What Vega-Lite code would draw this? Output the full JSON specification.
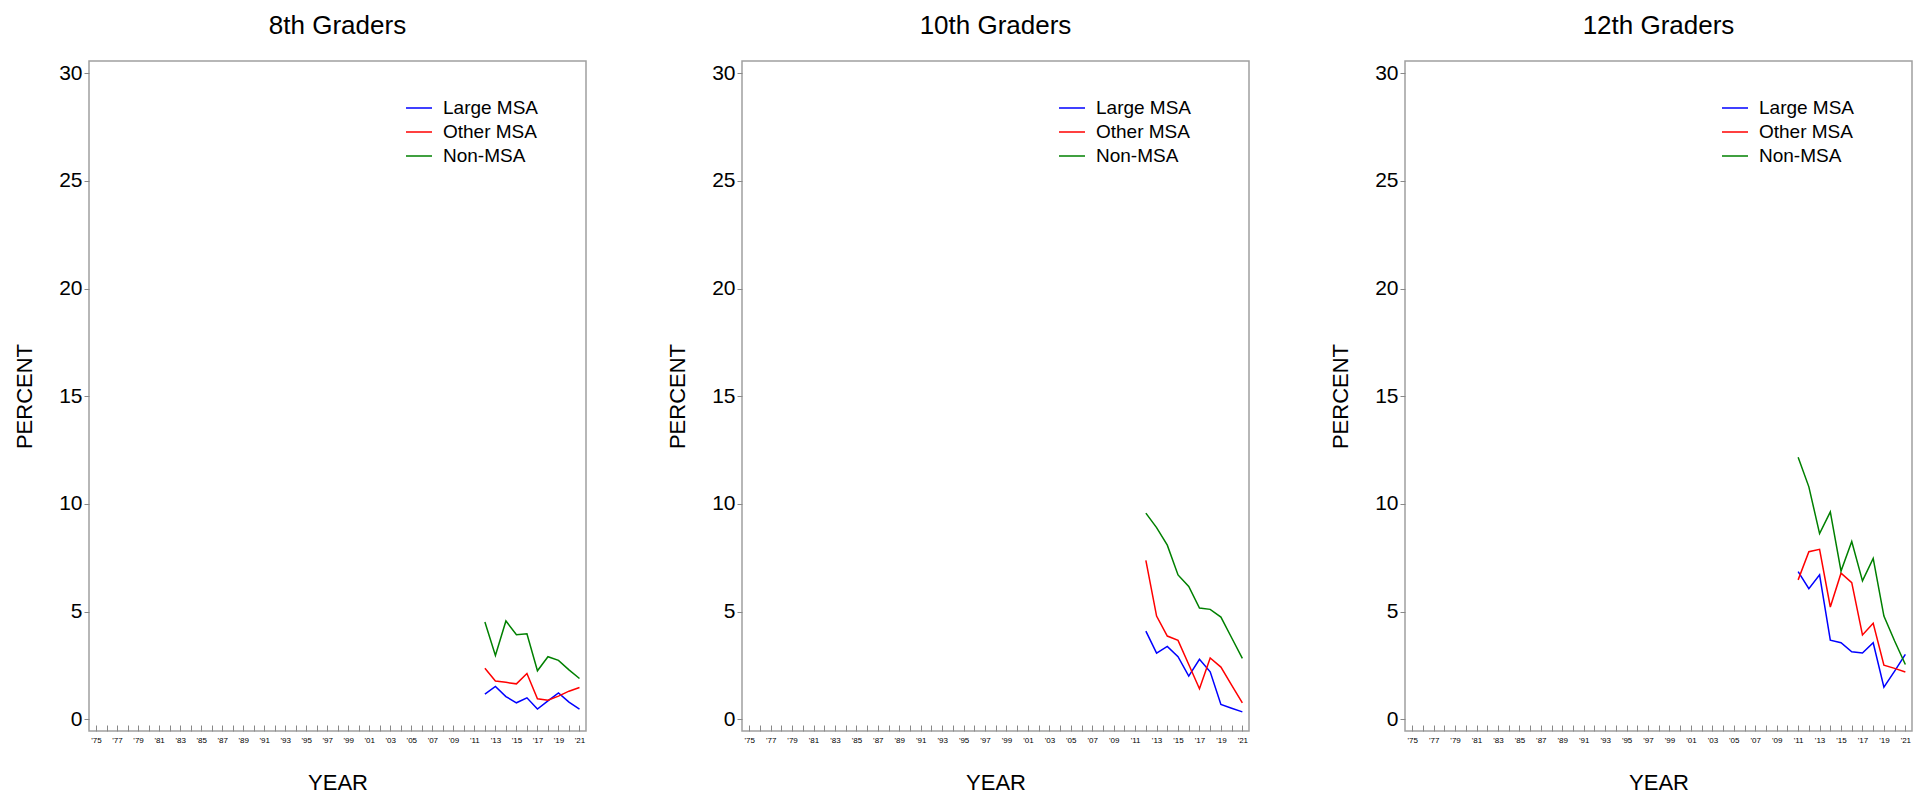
{
  "$schema": "https://vega.github.io/schema/vega-lite/v6.json",
  "padding": {"left": 12, "top": 12, "right": 2, "bottom": 2},
  "config": {
    "font": "Liberation Sans",
    "view": {"stroke": "#a0a0a0", "strokeWidth": 1.5},
    "title": {"fontSize": 26, "fontWeight": "normal", "color": "#000000", "offset": 22},
    "axis": {"grid": false, "domain": false, "tickColor": "#888888", "labelColor": "#000000", "titleColor": "#000000", "titleFontWeight": "normal"},
    "legend": {"orient": "none", "legendX": 316, "legendY": 33, "title": null, "symbolType": "stroke", "symbolSize": 676, "symbolStrokeWidth": 1.5, "labelFontSize": 19, "labelOffset": 10, "rowPadding": -3.5, "padding": 0, "labelColor": "#000000"}
  },
  "data": {"values": [
    {"grade": "8th Graders", "group": "Large MSA", "year": 2012, "value": 1.16},
    {"grade": "8th Graders", "group": "Large MSA", "year": 2013, "value": 1.52},
    {"grade": "8th Graders", "group": "Large MSA", "year": 2014, "value": 1.05},
    {"grade": "8th Graders", "group": "Large MSA", "year": 2015, "value": 0.76},
    {"grade": "8th Graders", "group": "Large MSA", "year": 2016, "value": 0.99},
    {"grade": "8th Graders", "group": "Large MSA", "year": 2017, "value": 0.47},
    {"grade": "8th Graders", "group": "Large MSA", "year": 2018, "value": 0.85},
    {"grade": "8th Graders", "group": "Large MSA", "year": 2019, "value": 1.22},
    {"grade": "8th Graders", "group": "Large MSA", "year": 2020, "value": 0.79},
    {"grade": "8th Graders", "group": "Large MSA", "year": 2021, "value": 0.47},
    {"grade": "8th Graders", "group": "Other MSA", "year": 2012, "value": 2.36},
    {"grade": "8th Graders", "group": "Other MSA", "year": 2013, "value": 1.77},
    {"grade": "8th Graders", "group": "Other MSA", "year": 2014, "value": 1.71},
    {"grade": "8th Graders", "group": "Other MSA", "year": 2015, "value": 1.64},
    {"grade": "8th Graders", "group": "Other MSA", "year": 2016, "value": 2.12},
    {"grade": "8th Graders", "group": "Other MSA", "year": 2017, "value": 0.95},
    {"grade": "8th Graders", "group": "Other MSA", "year": 2018, "value": 0.88},
    {"grade": "8th Graders", "group": "Other MSA", "year": 2019, "value": 1.07},
    {"grade": "8th Graders", "group": "Other MSA", "year": 2020, "value": 1.30},
    {"grade": "8th Graders", "group": "Other MSA", "year": 2021, "value": 1.47},
    {"grade": "8th Graders", "group": "Non-MSA", "year": 2012, "value": 4.51},
    {"grade": "8th Graders", "group": "Non-MSA", "year": 2013, "value": 2.96},
    {"grade": "8th Graders", "group": "Non-MSA", "year": 2014, "value": 4.56},
    {"grade": "8th Graders", "group": "Non-MSA", "year": 2015, "value": 3.92},
    {"grade": "8th Graders", "group": "Non-MSA", "year": 2016, "value": 3.97},
    {"grade": "8th Graders", "group": "Non-MSA", "year": 2017, "value": 2.25},
    {"grade": "8th Graders", "group": "Non-MSA", "year": 2018, "value": 2.90},
    {"grade": "8th Graders", "group": "Non-MSA", "year": 2019, "value": 2.73},
    {"grade": "8th Graders", "group": "Non-MSA", "year": 2020, "value": 2.29},
    {"grade": "8th Graders", "group": "Non-MSA", "year": 2021, "value": 1.89},
    {"grade": "10th Graders", "group": "Large MSA", "year": 2012, "value": 4.09},
    {"grade": "10th Graders", "group": "Large MSA", "year": 2013, "value": 3.07},
    {"grade": "10th Graders", "group": "Large MSA", "year": 2014, "value": 3.38},
    {"grade": "10th Graders", "group": "Large MSA", "year": 2015, "value": 2.90},
    {"grade": "10th Graders", "group": "Large MSA", "year": 2016, "value": 2.00},
    {"grade": "10th Graders", "group": "Large MSA", "year": 2017, "value": 2.78},
    {"grade": "10th Graders", "group": "Large MSA", "year": 2018, "value": 2.20},
    {"grade": "10th Graders", "group": "Large MSA", "year": 2019, "value": 0.68},
    {"grade": "10th Graders", "group": "Large MSA", "year": 2020, "value": 0.51},
    {"grade": "10th Graders", "group": "Large MSA", "year": 2021, "value": 0.34},
    {"grade": "10th Graders", "group": "Other MSA", "year": 2012, "value": 7.38},
    {"grade": "10th Graders", "group": "Other MSA", "year": 2013, "value": 4.79},
    {"grade": "10th Graders", "group": "Other MSA", "year": 2014, "value": 3.86},
    {"grade": "10th Graders", "group": "Other MSA", "year": 2015, "value": 3.66},
    {"grade": "10th Graders", "group": "Other MSA", "year": 2016, "value": 2.54},
    {"grade": "10th Graders", "group": "Other MSA", "year": 2017, "value": 1.41},
    {"grade": "10th Graders", "group": "Other MSA", "year": 2018, "value": 2.84},
    {"grade": "10th Graders", "group": "Other MSA", "year": 2019, "value": 2.42},
    {"grade": "10th Graders", "group": "Other MSA", "year": 2020, "value": 1.58},
    {"grade": "10th Graders", "group": "Other MSA", "year": 2021, "value": 0.76},
    {"grade": "10th Graders", "group": "Non-MSA", "year": 2012, "value": 9.57},
    {"grade": "10th Graders", "group": "Non-MSA", "year": 2013, "value": 8.90},
    {"grade": "10th Graders", "group": "Non-MSA", "year": 2014, "value": 8.08},
    {"grade": "10th Graders", "group": "Non-MSA", "year": 2015, "value": 6.70},
    {"grade": "10th Graders", "group": "Non-MSA", "year": 2016, "value": 6.16},
    {"grade": "10th Graders", "group": "Non-MSA", "year": 2017, "value": 5.16},
    {"grade": "10th Graders", "group": "Non-MSA", "year": 2018, "value": 5.10},
    {"grade": "10th Graders", "group": "Non-MSA", "year": 2019, "value": 4.74},
    {"grade": "10th Graders", "group": "Non-MSA", "year": 2020, "value": 3.78},
    {"grade": "10th Graders", "group": "Non-MSA", "year": 2021, "value": 2.82},
    {"grade": "12th Graders", "group": "Large MSA", "year": 2011, "value": 6.85},
    {"grade": "12th Graders", "group": "Large MSA", "year": 2012, "value": 6.06},
    {"grade": "12th Graders", "group": "Large MSA", "year": 2013, "value": 6.70},
    {"grade": "12th Graders", "group": "Large MSA", "year": 2014, "value": 3.67},
    {"grade": "12th Graders", "group": "Large MSA", "year": 2015, "value": 3.55},
    {"grade": "12th Graders", "group": "Large MSA", "year": 2016, "value": 3.13},
    {"grade": "12th Graders", "group": "Large MSA", "year": 2017, "value": 3.07},
    {"grade": "12th Graders", "group": "Large MSA", "year": 2018, "value": 3.55},
    {"grade": "12th Graders", "group": "Large MSA", "year": 2019, "value": 1.49},
    {"grade": "12th Graders", "group": "Large MSA", "year": 2020, "value": 2.23},
    {"grade": "12th Graders", "group": "Large MSA", "year": 2021, "value": 3.01},
    {"grade": "12th Graders", "group": "Other MSA", "year": 2011, "value": 6.47},
    {"grade": "12th Graders", "group": "Other MSA", "year": 2012, "value": 7.78},
    {"grade": "12th Graders", "group": "Other MSA", "year": 2013, "value": 7.89},
    {"grade": "12th Graders", "group": "Other MSA", "year": 2014, "value": 5.21},
    {"grade": "12th Graders", "group": "Other MSA", "year": 2015, "value": 6.78},
    {"grade": "12th Graders", "group": "Other MSA", "year": 2016, "value": 6.34},
    {"grade": "12th Graders", "group": "Other MSA", "year": 2017, "value": 3.91},
    {"grade": "12th Graders", "group": "Other MSA", "year": 2018, "value": 4.45},
    {"grade": "12th Graders", "group": "Other MSA", "year": 2019, "value": 2.51},
    {"grade": "12th Graders", "group": "Other MSA", "year": 2020, "value": 2.36},
    {"grade": "12th Graders", "group": "Other MSA", "year": 2021, "value": 2.19},
    {"grade": "12th Graders", "group": "Non-MSA", "year": 2011, "value": 12.16},
    {"grade": "12th Graders", "group": "Non-MSA", "year": 2012, "value": 10.79},
    {"grade": "12th Graders", "group": "Non-MSA", "year": 2013, "value": 8.62},
    {"grade": "12th Graders", "group": "Non-MSA", "year": 2014, "value": 9.63},
    {"grade": "12th Graders", "group": "Non-MSA", "year": 2015, "value": 6.88},
    {"grade": "12th Graders", "group": "Non-MSA", "year": 2016, "value": 8.25},
    {"grade": "12th Graders", "group": "Non-MSA", "year": 2017, "value": 6.42},
    {"grade": "12th Graders", "group": "Non-MSA", "year": 2018, "value": 7.47},
    {"grade": "12th Graders", "group": "Non-MSA", "year": 2019, "value": 4.79},
    {"grade": "12th Graders", "group": "Non-MSA", "year": 2020, "value": 3.63},
    {"grade": "12th Graders", "group": "Non-MSA", "year": 2021, "value": 2.54}
  ]},
  "spacing": 78,
  "resolve": {"legend": {"color": "independent"}},
  "hconcat": [
    {
      "width": 497, "height": 670,
      "title": "8th Graders",
      "transform": [{"filter": "datum.grade == '8th Graders'"}],
      "mark": {"type": "line", "strokeWidth": 1.5},
      "encoding": {
        "x": {"field": "year", "type": "quantitative", "scale": {"domain": [1974.33, 2021.62], "nice": false, "zero": false},
          "axis": {"title": "YEAR", "values": [1975,1976,1977,1978,1979,1980,1981,1982,1983,1984,1985,1986,1987,1988,1989,1990,1991,1992,1993,1994,1995,1996,1997,1998,1999,2000,2001,2002,2003,2004,2005,2006,2007,2008,2009,2010,2011,2012,2013,2014,2015,2016,2017,2018,2019,2020,2021],
            "labelExpr": "datum.value % 2 == 1 ? \"'\" + substring(toString(datum.value), 2, 4) : ''",
            "labelFontSize": 8, "tickSize": -6, "labelPadding": 11, "labelOverlap": false, "labelFlush": false, "titleFontSize": 22, "titlePadding": 28}},
        "y": {"field": "value", "type": "quantitative", "scale": {"domain": [-0.55, 30.57], "nice": false, "zero": false},
          "axis": {"title": "PERCENT", "values": [0,5,10,15,20,25,30], "tickSize": 5, "labelFontSize": 21, "labelPadding": 2, "titleFontSize": 22, "titlePadding": 22}},
        "color": {"field": "group", "type": "nominal", "scale": {"domain": ["Large MSA", "Other MSA", "Non-MSA"], "range": ["#0000ff", "#ff0000", "#008000"]}}
      }
    },
    {
      "width": 507, "height": 670,
      "title": "10th Graders",
      "transform": [{"filter": "datum.grade == '10th Graders'"}],
      "mark": {"type": "line", "strokeWidth": 1.5},
      "encoding": {
        "x": {"field": "year", "type": "quantitative", "scale": {"domain": [1974.33, 2021.62], "nice": false, "zero": false},
          "axis": {"title": "YEAR", "values": [1975,1976,1977,1978,1979,1980,1981,1982,1983,1984,1985,1986,1987,1988,1989,1990,1991,1992,1993,1994,1995,1996,1997,1998,1999,2000,2001,2002,2003,2004,2005,2006,2007,2008,2009,2010,2011,2012,2013,2014,2015,2016,2017,2018,2019,2020,2021],
            "labelExpr": "datum.value % 2 == 1 ? \"'\" + substring(toString(datum.value), 2, 4) : ''",
            "labelFontSize": 8, "tickSize": -6, "labelPadding": 11, "labelOverlap": false, "labelFlush": false, "titleFontSize": 22, "titlePadding": 28}},
        "y": {"field": "value", "type": "quantitative", "scale": {"domain": [-0.55, 30.57], "nice": false, "zero": false},
          "axis": {"title": "PERCENT", "values": [0,5,10,15,20,25,30], "tickSize": 5, "labelFontSize": 21, "labelPadding": 2, "titleFontSize": 22, "titlePadding": 22}},
        "color": {"field": "group", "type": "nominal", "scale": {"domain": ["Large MSA", "Other MSA", "Non-MSA"], "range": ["#0000ff", "#ff0000", "#008000"]}}
      }
    },
    {
      "width": 507, "height": 670,
      "title": "12th Graders",
      "transform": [{"filter": "datum.grade == '12th Graders'"}],
      "mark": {"type": "line", "strokeWidth": 1.5},
      "encoding": {
        "x": {"field": "year", "type": "quantitative", "scale": {"domain": [1974.33, 2021.62], "nice": false, "zero": false},
          "axis": {"title": "YEAR", "values": [1975,1976,1977,1978,1979,1980,1981,1982,1983,1984,1985,1986,1987,1988,1989,1990,1991,1992,1993,1994,1995,1996,1997,1998,1999,2000,2001,2002,2003,2004,2005,2006,2007,2008,2009,2010,2011,2012,2013,2014,2015,2016,2017,2018,2019,2020,2021],
            "labelExpr": "datum.value % 2 == 1 ? \"'\" + substring(toString(datum.value), 2, 4) : ''",
            "labelFontSize": 8, "tickSize": -6, "labelPadding": 11, "labelOverlap": false, "labelFlush": false, "titleFontSize": 22, "titlePadding": 28}},
        "y": {"field": "value", "type": "quantitative", "scale": {"domain": [-0.55, 30.57], "nice": false, "zero": false},
          "axis": {"title": "PERCENT", "values": [0,5,10,15,20,25,30], "tickSize": 5, "labelFontSize": 21, "labelPadding": 2, "titleFontSize": 22, "titlePadding": 22}},
        "color": {"field": "group", "type": "nominal", "scale": {"domain": ["Large MSA", "Other MSA", "Non-MSA"], "range": ["#0000ff", "#ff0000", "#008000"]}}
      }
    }
  ]
}
